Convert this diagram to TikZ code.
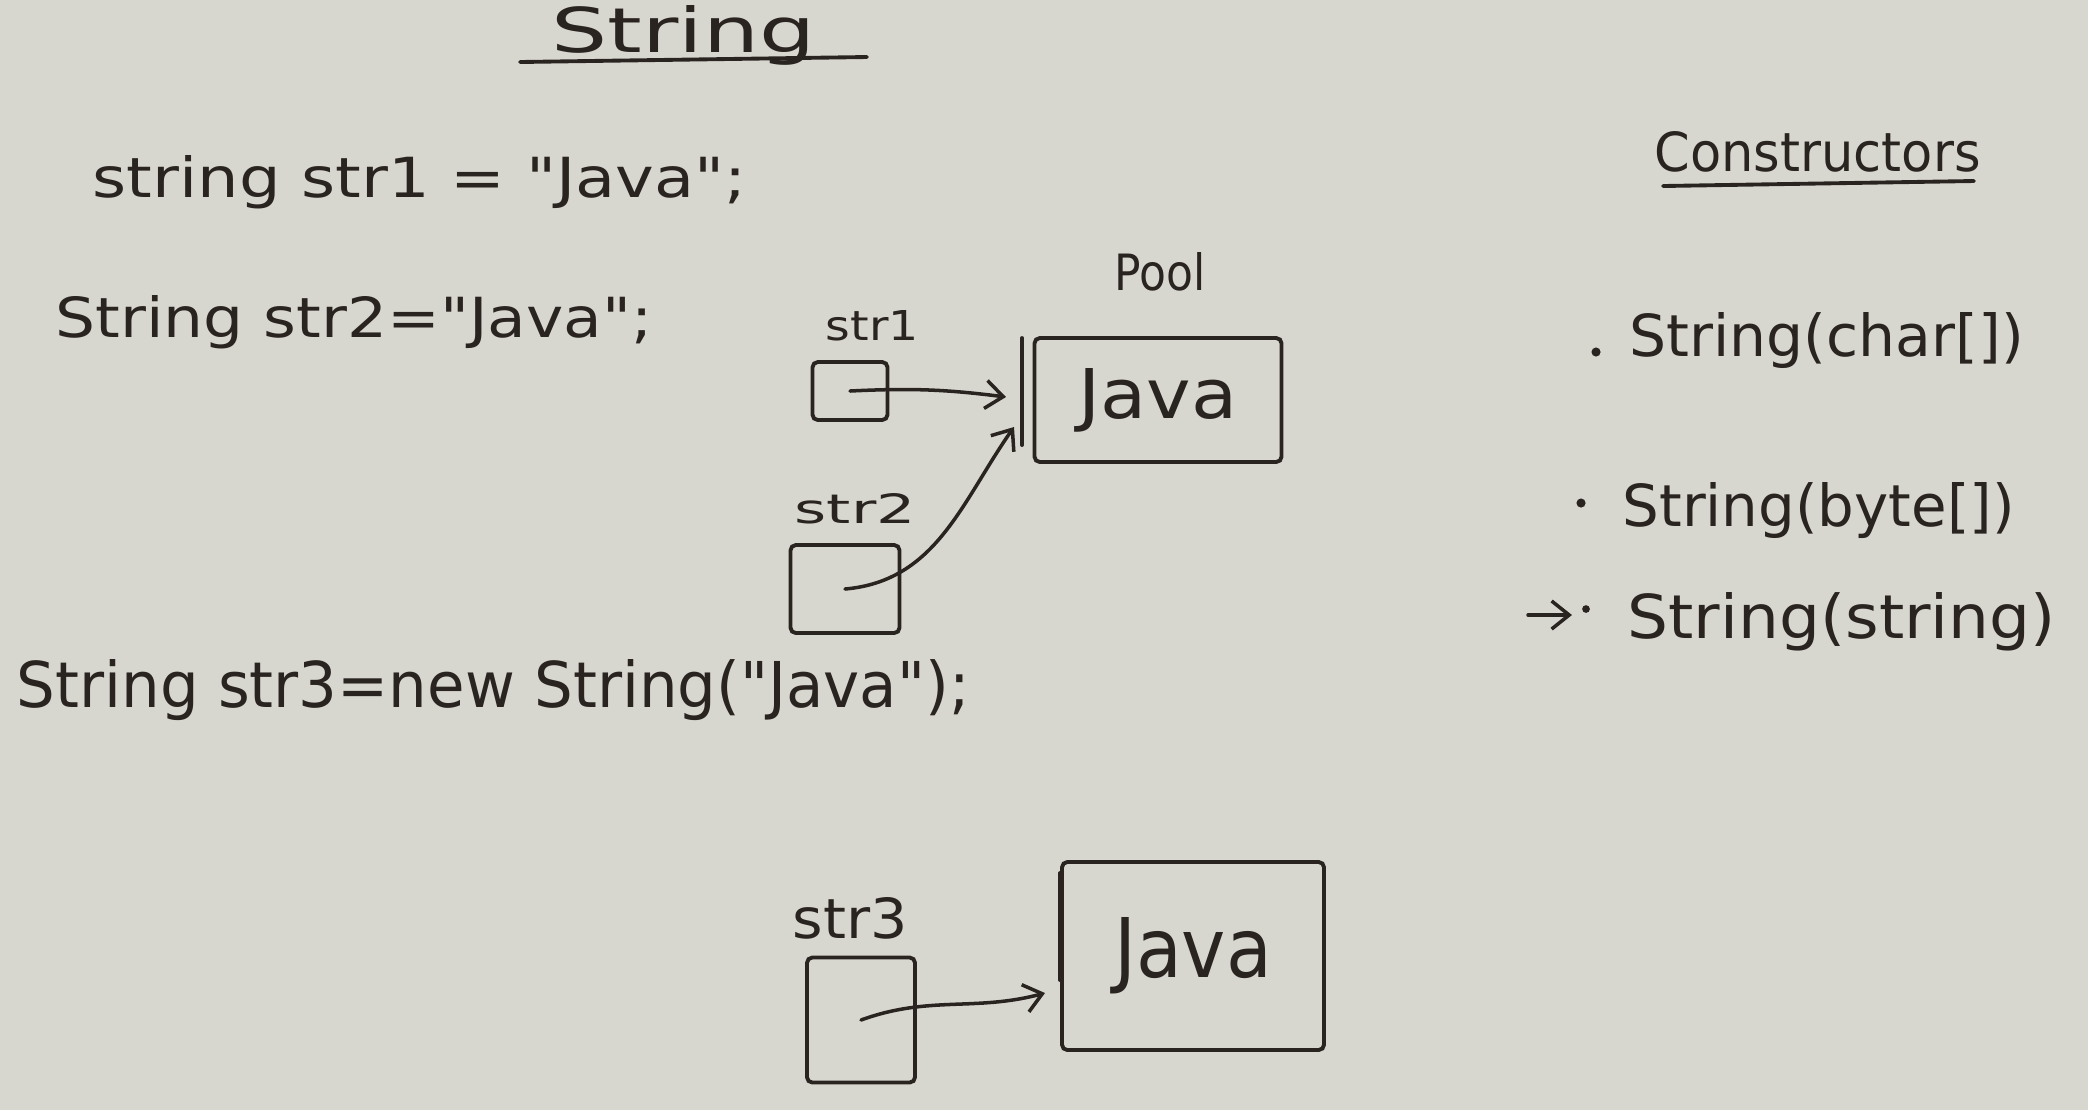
\documentclass[tikz,border=0pt]{standalone}
\usepackage{fontspec}
\setmainfont{DejaVu Sans}[Ligatures=TeXOff]
\usepackage{graphicx}
\usetikzlibrary{arrows.meta}
\definecolor{board}{RGB}{216,215,207}
\definecolor{ink}{RGB}{42,36,33}
\newcommand{\hand}[3]{\resizebox{#1cm}{#2cm}{#3}}
\begin{document}
\begin{tikzpicture}[
        pen/.style={draw=ink, line width=1.1pt, line cap=round},
        hwtext/.style={inner sep=0pt, anchor=base west, text=ink},
        refbox/.style={draw=ink, line width=1.1pt, inner sep=0pt, text=ink, rounded corners=1.5pt},
        link/.style={draw=ink, line width=1pt, line cap=round, -{Straight Barb[length=5pt,width=8pt]}}
    ]
                \useasboundingbox (0,0) rectangle (20.88,-11.10);
                \fill[board] (0,0) rectangle (20.88,-11.10);
                \node[hwtext] (title) at (5.51,-0.52) {\hand{2.64}{0.47}{String}};
                \draw[pen] (5.20,-0.62)--(8.67,-0.57);
                \node[hwtext] (decl1) at (0.92,-1.97) {\hand{6.54}{0.42}{string str1 = "Java";}};
                \node[hwtext] (decl2) at (0.55,-3.37) {\hand{5.97}{0.42}{String str2="Java";}};
                \node[hwtext] (decl3) at (0.16,-7.07) {\hand{9.53}{0.48}{String str3=new String("Java");}};
                \node[hwtext] (ctors) at (16.54,-1.71) {\hand{3.26}{0.40}{Constructors}};
                \draw[pen] (16.63,-1.86)--(19.74,-1.81);
                \fill[ink] (15.96,-3.52) circle (1.3pt);
                \node[hwtext] (ctor1) at (16.29,-3.56) {\hand{3.94}{0.44}{String(char[])}};
                \fill[ink] (15.81,-5.03) circle (1.3pt);
                \node[hwtext] (ctor2) at (16.22,-5.26) {\hand{3.92}{0.44}{String(byte[])}};
                \draw[link] (15.28,-6.15)--(15.72,-6.15);
                \fill[ink] (15.86,-6.09) circle (1.1pt);
                \node[hwtext] (ctor3) at (16.27,-6.38) {\hand{4.28}{0.46}{String(string)}};
                \node[hwtext] (poollab) at (11.14,-2.90) {\hand{0.91}{0.38}{Pool}};
                \node[hwtext] (lab1) at (8.25,-3.40) {\hand{0.93}{0.30}{str1}};
                \node[refbox, minimum width=0.75cm, minimum height=0.58cm] (ref1) at (8.50,-3.91) {};
                \node[hwtext] (lab2) at (7.94,-5.23) {\hand{1.21}{0.30}{str2}};
                \node[refbox, minimum width=1.09cm, minimum height=0.88cm] (ref2) at (8.45,-5.89) {};
                \node[refbox, minimum width=2.47cm, minimum height=1.24cm] (pool) at (11.58,-4.00) {\hand{1.59}{0.50}{Java}};
                \draw[pen] (10.22,-3.38)--(10.22,-4.45);
                \coordinate (in1) at (10.06,-3.97);
                \coordinate (in2) at (10.14,-4.27);
                \draw[link] (ref1.center) to[bend left=5] (in1);
                \draw[link] (ref2.center) to[out=5,in=235] (in2);
                \node[hwtext] (lab3) at (7.92,-9.38) {\hand{1.15}{0.41}{str3}};
                \node[refbox, minimum width=1.08cm, minimum height=1.25cm] (ref3) at (8.61,-10.20) {};
                \node[refbox, minimum width=2.62cm, minimum height=1.88cm] (heap) at (11.93,-9.56) {\hand{1.58}{0.60}{Java}};
                \draw[pen] (10.60,-8.73)--(10.60,-9.80);
                \coordinate (in3) at (10.45,-9.93);
                \draw[link] (ref3.center) to[out=20,in=195] (in3);
            \end{tikzpicture}
\end{document}
